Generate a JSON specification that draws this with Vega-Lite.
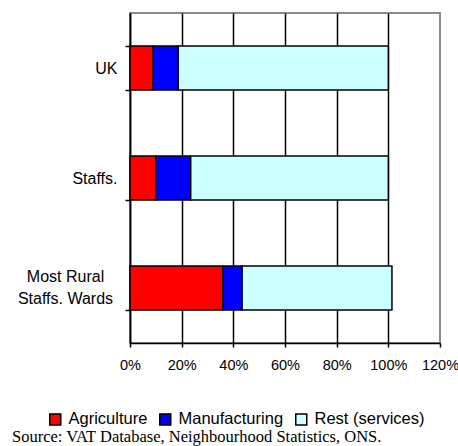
{
  "$schema": "https://vega.github.io/schema/vega-lite/v6.json",
  "width": 310,
  "height": 330,
  "autosize": {"type": "none"},
  "padding": {"left": 130, "top": 13, "right": 18, "bottom": 103},
  "background": "white",
  "config": {
    "view": {"stroke": "#8c8c8c", "strokeWidth": 2},
    "font": "Liberation Sans"
  },
  "title": {
    "text": "Source: VAT Database, Neighbourhood Statistics, ONS.",
    "orient": "bottom",
    "anchor": "start",
    "frame": "group",
    "dx": -118,
    "offset": 1,
    "baseline": "top",
    "font": "Liberation Serif",
    "fontSize": 16.5,
    "fontWeight": "normal",
    "color": "black"
  },
  "data": {
    "values": [
      {"area": "UK", "sector": "Agriculture", "pct": 9.0, "k": 1},
      {"area": "UK", "sector": "Manufacturing", "pct": 9.7, "k": 2},
      {"area": "UK", "sector": "Rest (services)", "pct": 81.3, "k": 3},
      {"area": "Staffs.", "sector": "Agriculture", "pct": 10.0, "k": 1},
      {"area": "Staffs.", "sector": "Manufacturing", "pct": 13.5, "k": 2},
      {"area": "Staffs.", "sector": "Rest (services)", "pct": 76.5, "k": 3},
      {"area": "Most Rural Staffs. Wards", "sector": "Agriculture", "pct": 36.0, "k": 1},
      {"area": "Most Rural Staffs. Wards", "sector": "Manufacturing", "pct": 7.4, "k": 2},
      {"area": "Most Rural Staffs. Wards", "sector": "Rest (services)", "pct": 58.0, "k": 3}
    ]
  },
  "mark": {"type": "bar", "stroke": "black", "strokeWidth": 1.5},
  "encoding": {
    "y": {
      "field": "area",
      "type": "nominal",
      "sort": ["UK", "Staffs.", "Most Rural Staffs. Wards"],
      "scale": {"paddingInner": 0.6, "paddingOuter": 0.3},
      "axis": {
        "title": null,
        "domainColor": "black",
        "domainWidth": 1.5,
        "tickColor": "black",
        "tickBand": "extent",
        "tickSize": 5,
        "tickWidth": 1.5,
        "labelFontSize": 16,
        "labelColor": "black",
        "labelLineHeight": 22,
        "labelAlign": {"condition": {"test": "datum.value === 'Most Rural Staffs. Wards'", "value": "center"}, "value": "right"},
        "labelPadding": {"condition": {"test": "datum.value === 'Most Rural Staffs. Wards'", "value": 60}, "value": 8},
        "labelOffset": {"condition": {"test": "datum.value === 'Most Rural Staffs. Wards'", "value": -12}, "value": 0},
        "labelExpr": "datum.value === 'Most Rural Staffs. Wards' ? ['Most Rural', 'Staffs. Wards'] : datum.label"
      }
    },
    "x": {
      "field": "pct",
      "type": "quantitative",
      "stack": "zero",
      "scale": {"domain": [0, 120], "nice": false},
      "axis": {
        "title": null,
        "values": [0, 20, 40, 60, 80, 100, 120],
        "labelExpr": "datum.value + '%'",
        "labelOverlap": false,
        "labelFlush": false,
        "domainColor": "black",
        "domainWidth": 1.5,
        "tickColor": "black",
        "tickSize": 4,
        "tickWidth": 1.5,
        "grid": true,
        "gridColor": {"condition": {"test": "datum.value >= 120", "value": "transparent"}, "value": "black"},
        "gridWidth": 1.5,
        "gridOpacity": 1,
        "labelFontSize": 14.5,
        "labelColor": "black",
        "labelPadding": 11
      }
    },
    "color": {
      "field": "sector",
      "type": "nominal",
      "scale": {
        "domain": ["Agriculture", "Manufacturing", "Rest (services)"],
        "range": ["#ff0000", "#0000ff", "#ccffff"]
      },
      "legend": {
        "title": null,
        "orient": "none",
        "legendX": -83,
        "legendY": 398,
        "direction": "horizontal",
        "symbolType": "square",
        "symbolSize": 121,
        "symbolStrokeColor": "black",
        "symbolStrokeWidth": 1.5,
        "symbolOpacity": 1,
        "labelFontSize": 16.5,
        "labelColor": "black",
        "labelOffset": 5,
        "columnPadding": 8
      }
    },
    "order": {"field": "k"}
  }
}
